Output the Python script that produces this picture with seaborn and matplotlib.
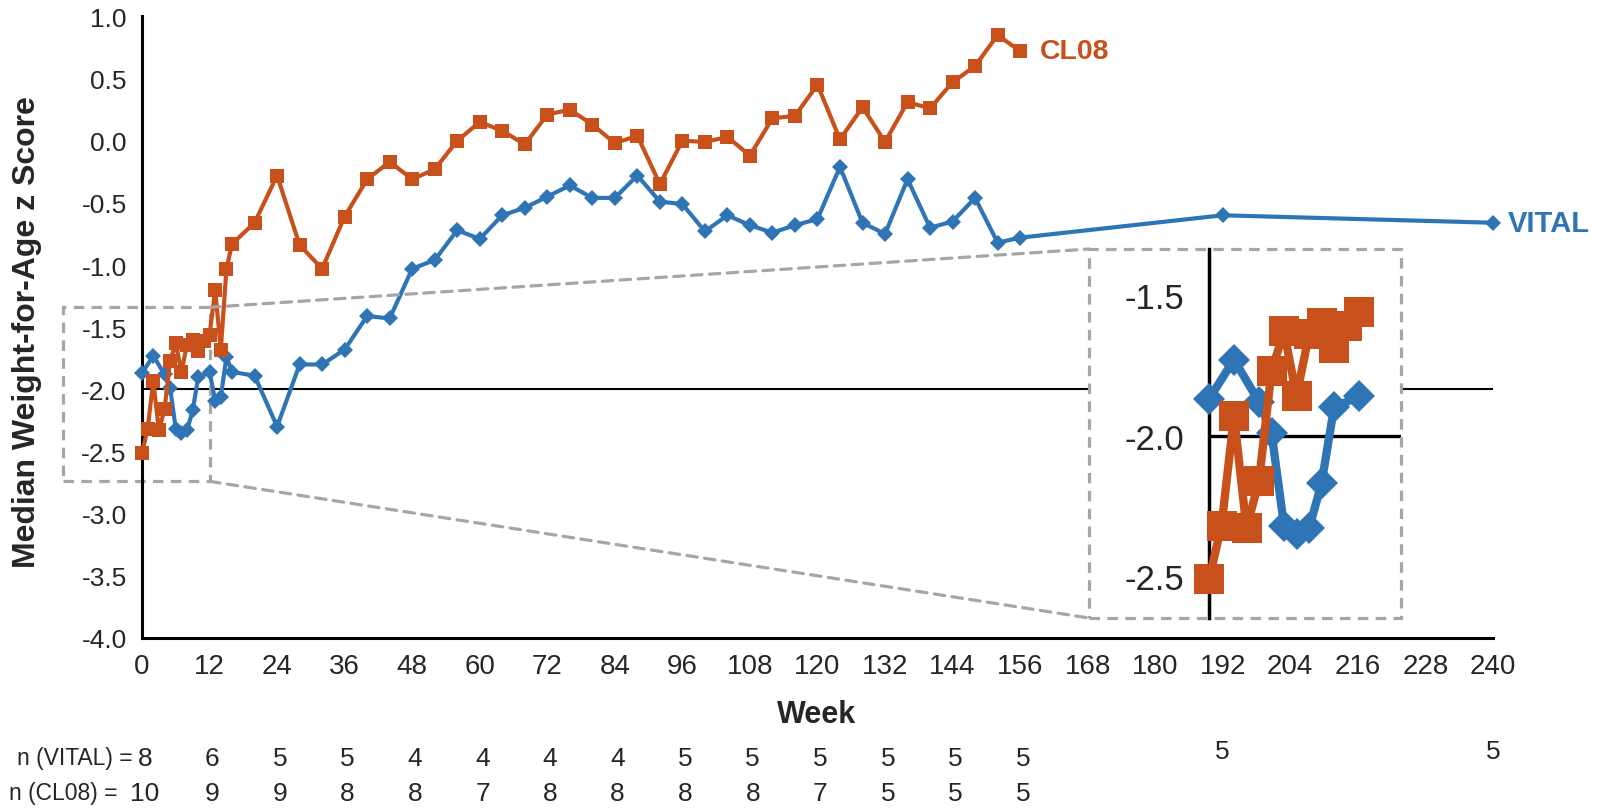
import matplotlib
matplotlib.use('Agg')
import matplotlib.pyplot as plt
import pandas as pd
import seaborn as sns
from matplotlib.patches import Rectangle, ConnectionPatch
from matplotlib.transforms import blended_transform_factory
from matplotlib.ticker import FormatStrFormatter

# 数据: 周 与 中位 WAZ
vital_weeks = [0, 2, 4, 5, 6, 7, 8, 9, 10, 12, 13, 14, 15, 16,
               20, 24, 28, 32, 36, 40, 44, 48, 52, 56, 60, 64, 68, 72, 76, 80,
               84, 88, 92, 96, 100, 104, 108, 112, 116, 120, 124, 128, 132, 136,
               140, 144, 148, 152, 156, 192, 240]
vital_z = [-1.87, -1.73, -1.88, -1.99, -2.32, -2.35, -2.33, -2.17, -1.90, -1.86, -2.09, -2.06, -1.74, -1.86,
           -1.89, -2.30, -1.80, -1.80, -1.68, -1.41, -1.43, -1.03, -0.96, -0.72, -0.79, -0.60, -0.54, -0.45, -0.36, -0.46,
           -0.46, -0.28, -0.49, -0.51, -0.73, -0.60, -0.68, -0.74, -0.68, -0.63, -0.21, -0.66, -0.75, -0.31,
           -0.70, -0.65, -0.46, -0.82, -0.78, -0.60, -0.66]

cl08_weeks = [0, 1, 2, 3, 4, 5, 6, 7, 8, 9, 10, 11, 12, 13, 14, 15, 16,
              20, 24, 28, 32, 36, 40, 44, 48, 52, 56, 60, 64, 68, 72, 76, 80,
              84, 88, 92, 96, 100, 104, 108, 112, 116, 120, 124, 128, 132, 136,
              140, 144, 148, 152, 156]
cl08_z = [-2.51, -2.32, -1.93, -2.33, -2.16, -1.77, -1.63, -1.86, -1.64, -1.60, -1.69, -1.61, -1.56, -1.20, -1.68, -1.03, -0.83,
          -0.66, -0.28, -0.84, -1.03, -0.61, -0.31, -0.17, -0.31, -0.23, 0.00, 0.15, 0.08, -0.03, 0.21, 0.25, 0.13,
          -0.02, 0.04, -0.35, 0.00, -0.01, 0.03, -0.12, 0.18, 0.20, 0.45, 0.01, 0.27, -0.01, 0.31,
          0.26, 0.47, 0.60, 0.85, 0.72]

# 每个时间点的样本量
n_weeks = [0, 12, 24, 36, 48, 60, 72, 84, 96, 108, 120, 132, 144, 156]
n_vital = [8, 6, 5, 5, 4, 4, 4, 4, 5, 5, 5, 5, 5, 5]
n_cl08 = [10, 9, 9, 8, 8, 7, 8, 8, 8, 8, 7, 5, 5, 5]
n_vital_late_weeks = [192, 240]
n_vital_late = [5, 5]

x_ticks = list(range(0, 241, 12))
y_ticks = [-4.0, -3.5, -3.0, -2.5, -2.0, -1.5, -1.0, -0.5, 0.0, 0.5, 1.0]
inset_ticks = [-2.5, -2.0, -1.5]

# 放大区域 (周, z)
zoom_x = (-14, 12)
zoom_y = (-2.74, -1.34)

BLUE = '#2F75B5'
ORANGE = '#C8501A'
GREY = '#A6A6A6'
DASH = (0, (3.3, 2.3))

sns.set_style('white')
plt.rcParams['font.family'] = ['Liberation Sans', 'DejaVu Sans']
plt.rcParams['axes.unicode_minus'] = False

df_vital = pd.DataFrame({'week': vital_weeks, 'z': vital_z})
df_cl08 = pd.DataFrame({'week': cl08_weeks, 'z': cl08_z})

fig = plt.figure(figsize=(16.01, 8.12), dpi=100)
ax = fig.add_axes([0.0887, 0.2131, 0.8438, 0.7655])

ax.axhline(-2.0, color='black', lw=1.5, zorder=1)
sns.lineplot(data=df_vital, x='week', y='z', ax=ax, color=BLUE, lw=3,
             marker='D', markersize=8.5, markeredgewidth=0, clip_on=False, zorder=3)
sns.lineplot(data=df_cl08, x='week', y='z', ax=ax, color=ORANGE, lw=3,
             marker='s', markersize=9.6, markeredgewidth=0, clip_on=False, zorder=4)

ax.set_xlim(0, 240)
ax.set_ylim(-4.0, 1.0)
ax.set_xticks(x_ticks)
ax.set_yticks(y_ticks)
ax.yaxis.set_major_formatter(FormatStrFormatter('%.1f'))
ax.set_xlabel('')
ax.set_ylabel('')
for s in ['top', 'right']:
    ax.spines[s].set_visible(False)
for s in ['left', 'bottom']:
    ax.spines[s].set_color('black')
    ax.spines[s].set_linewidth(2.2)
ax.tick_params(axis='both', direction='out', length=6, width=1.8, color='black')
ax.tick_params(axis='y', labelsize=19, pad=5)
ax.tick_params(axis='x', labelsize=20, pad=5)

# 系列标签
ax.text(cl08_weeks[-1] + 3.5, cl08_z[-1], 'CL08', color=ORANGE, fontsize=20.5,
        fontweight='bold', ha='left', va='center')
ax.text(vital_weeks[-1] + 2.6, vital_z[-1], 'VITAL', color=BLUE, fontsize=21,
        fontweight='bold', ha='left', va='center', clip_on=False)

# 放大框
ax.add_patch(Rectangle((zoom_x[0], zoom_y[0]), zoom_x[1] - zoom_x[0], zoom_y[1] - zoom_y[0],
                       fill=False, ec=GREY, lw=2.3, ls=DASH, clip_on=False, zorder=1.5))

fig.text(0.017, 0.591, 'Median Weight-for-Age z Score', rotation=90, fontsize=23,
         fontweight='bold', ha='center', va='center')
fig.text(0.510, 0.1198, 'Week', fontsize=22, fontweight='bold', ha='center', va='center')

# 样本量表
tr = blended_transform_factory(ax.transData, fig.transFigure)
ax.text(-1.6, 0.0653, 'n (VITAL) =', transform=tr, ha='right', va='center', fontsize=16.5)
ax.text(-4.4, 0.0222, 'n (CL08) =', transform=tr, ha='right', va='center', fontsize=16.5)
for w, n in zip(n_weeks, n_vital):
    ax.text(w + 0.5, 0.0653, str(n), transform=tr, ha='center', va='center', fontsize=19)
for w, n in zip(n_weeks, n_cl08):
    ax.text(w + 0.5, 0.0222, str(n), transform=tr, ha='center', va='center', fontsize=19)
for w, n in zip(n_vital_late_weeks, n_vital_late):
    ax.text(w, 0.0739, str(n), transform=tr, ha='center', va='center', fontsize=19)

# 插图: 前12周放大
ins = fig.add_axes([0.6802, 0.2377, 0.1949, 0.4544], facecolor='white')
ins.axhline(-2.0, xmin=9.6 / 24.96, xmax=1.0, color='black', lw=2.4, zorder=1)
sub_v = df_vital[df_vital['week'] <= 12]
sub_c = df_cl08[df_cl08['week'] <= 12]
sns.lineplot(data=sub_v, x='week', y='z', ax=ins, color=BLUE, lw=6,
             marker='D', markersize=16, markeredgewidth=0, clip_on=False, zorder=3)
sns.lineplot(data=sub_c, x='week', y='z', ax=ins, color=ORANGE, lw=6,
             marker='s', markersize=21.5, markeredgewidth=0, clip_on=False, zorder=4)
ins.set_xlim(-9.6, 15.36)
ins.set_ylim(-2.648, -1.337)
ins.set_xticks([])
ins.set_yticks(inset_ticks)
ins.yaxis.set_major_formatter(FormatStrFormatter('%.1f'))
ins.set_xlabel('')
ins.set_ylabel('')
for s in ['top', 'right', 'bottom']:
    ins.spines[s].set_visible(False)
ins.spines['left'].set_position(('data', 0))
ins.spines['left'].set_color('black')
ins.spines['left'].set_linewidth(2.5)
ins.tick_params(axis='y', direction='out', length=12, width=1.8, color='black',
                labelsize=25, pad=6)
ins.add_patch(Rectangle((0, 0), 1, 1, transform=ins.transAxes, fill=False, ec=GREY,
                        lw=2.3, ls=DASH, clip_on=False, zorder=5))

# 连接虚线
for yv, yb in [(zoom_y[1], 1), (zoom_y[0], 0)]:
    con = ConnectionPatch(xyA=(zoom_x[1], yv), coordsA=ax.transData,
                          xyB=(0, yb), coordsB=ins.transAxes,
                          color=GREY, lw=2.3, ls=DASH)
    con.set_zorder(0.5)
    fig.add_artist(con)

fig.savefig('out.png', dpi=100)
